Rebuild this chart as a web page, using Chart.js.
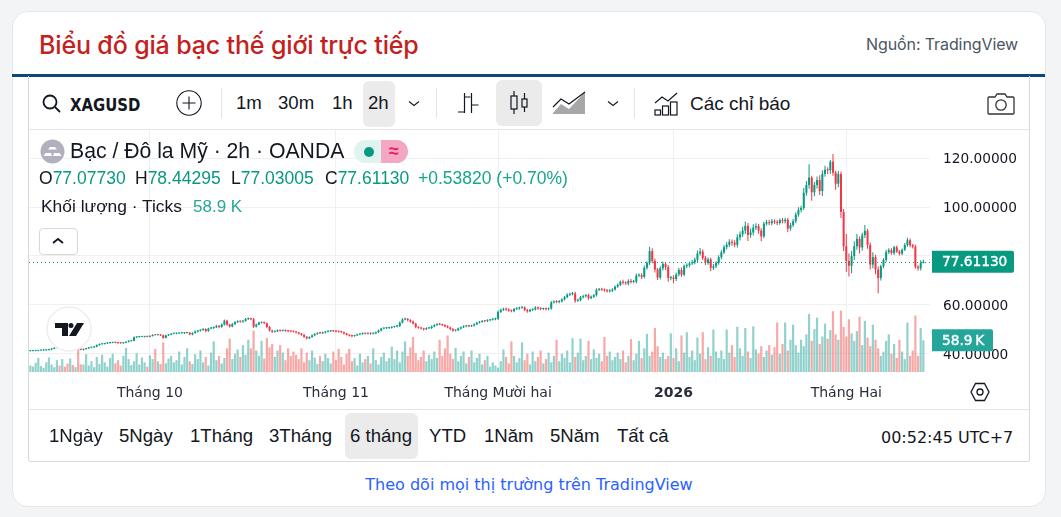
<!DOCTYPE html>
<html lang="vi">
<head>
<meta charset="utf-8">
<title>Biểu đồ giá bạc thế giới trực tiếp</title>
<script src="https://cdn.jsdelivr.net/npm/chart.js@4"></script>
<style>
  html, body { margin: 0; padding: 0; width: 1061px; height: 517px; overflow: hidden; background: #f3f4f6; }
  #card { position: absolute; left: 12px; top: 11px; width: 1032px; height: 494px; background: #fff; border: 1px solid #e5e7eb; border-radius: 16px; }
  #rule { position: absolute; left: 12px; top: 74px; width: 1033px; height: 3px; background: #0b4a78; }
  #frame { position: absolute; left: 28px; top: 76px; width: 1000px; height: 385px; border: 1px solid #d9d9d9; border-top: 0; border-radius: 0 0 3px 3px; }
  #toolLine { position: absolute; left: 29px; top: 129px; width: 1000px; height: 1px; background: #e6e6e6; }
  #axisLine { position: absolute; left: 29px; top: 409px; width: 1000px; height: 1px; background: #e3e3e3; }
  canvas { position: absolute; left: 29px; top: 130px; }
  .t { position: absolute; white-space: nowrap; font-family: "Liberation Sans", Arial, sans-serif; color: #131722; line-height: 1; }
  .c { transform: translate(-50%, -50%); }
  .hl { position: absolute; background: #ebebeb; border-radius: 6px; }
  .sep { position: absolute; width: 1px; background: #e3e3e3; top: 88px; height: 30px; }
  svg { position: absolute; overflow: visible; }
  .up { color: #089981; }
  .ohlc { font-size: 17.5px; top: 170px; }
  .tool { font-size: 18.6px; top: 94px; }
  .range { font-size: 18.6px; top: 427px; }
</style>
</head>
<body>
<div id="card"></div>
<div class="t" style="left:39px;top:30px;font:500 25px Inter,sans-serif;color:#c4211e;letter-spacing:-0.15px">Biểu đồ giá bạc thế giới trực tiếp</div>
<div class="t" style="left:866px;top:34px;font:16px Inter,sans-serif;color:#4b5563;letter-spacing:-0.1px">Nguồn: TradingView</div>
<div id="rule"></div>
<div id="frame"></div>
<div id="toolLine"></div>
<div id="axisLine"></div>

<canvas id="silverChart" width="1000" height="279"></canvas>

<!-- toolbar -->
<svg style="left:42px;top:93px" width="20" height="20" fill="none" stroke="#131722" stroke-width="1.8"><circle cx="8" cy="9" r="6.5"/><path d="M13 14l5 5"/></svg>
<div class="t" style="left:70px;top:95px;font:bold 17.5px 'DejaVu Sans Condensed','DejaVu Sans',sans-serif;transform:scaleX(.945);transform-origin:left">XAGUSD</div>
<svg style="left:176px;top:90px" width="26" height="26" fill="none" stroke="#131722" stroke-width="1.1"><circle cx="13" cy="13" r="12.2"/><path d="M13 6.5v13M6.5 13h13"/></svg>
<div class="sep" style="left:221px"></div>
<div class="hl" style="left:363px;top:81px;width:32px;height:46px"></div>
<div class="t tool" style="left:236px">1m</div>
<div class="t tool" style="left:278px">30m</div>
<div class="t tool" style="left:332px">1h</div>
<div class="t tool" style="left:368px">2h</div>
<svg style="left:408px;top:100px" width="12" height="8" fill="none" stroke="#131722" stroke-width="1.1"><path d="M1 1.5l5 4 5-4"/></svg>
<div class="sep" style="left:436px"></div>
<svg style="left:457px;top:91px" width="22" height="24" fill="none" stroke="#131722" stroke-width="1.2"><path d="M7.5 2v20M1 21h6.5M7.5 6h6M14.5 2v20M14.5 14h7"/></svg>
<div class="hl" style="left:496px;top:80px;width:46px;height:46px"></div>
<svg style="left:509px;top:90px" width="22" height="26" fill="none" stroke="#131722" stroke-width="1.2"><path d="M5 1v5M5 19v5M15.5 3v6M15.5 17v5"/><rect x="2" y="6" width="6" height="13"/><rect x="13" y="9" width="5" height="8"/></svg>
<svg style="left:553px;top:91px" width="34" height="24"><path d="M0 22l8-9 8 5L32 1v22H0z" fill="#8a8a8a" opacity=".75"/><path d="M0 16l8-8 8 5L32 1" fill="none" stroke="#131722" stroke-width="1.2"/></svg>
<svg style="left:607px;top:100px" width="12" height="8" fill="none" stroke="#131722" stroke-width="1.1"><path d="M1 1.5l5 4 5-4"/></svg>
<div class="sep" style="left:634px"></div>
<svg style="left:654px;top:91px" width="25" height="25" fill="none" stroke="#131722" stroke-width="1.2"><path d="M1 12l7-6 6 4 9-8"/><rect x="1" y="19" width="5.5" height="5"/><rect x="8.5" y="15" width="6" height="9"/><rect x="16.5" y="11" width="6.5" height="13"/></svg>
<div class="t" style="left:690px;top:94px;font-size:19px">Các chỉ báo</div>
<svg style="left:987px;top:92px" width="28" height="24" fill="none" stroke="#333" stroke-width="1.3"><path d="M2 5h6l2-3h8l2 3h6a1 1 0 0 1 1 1v15a1 1 0 0 1-1 1H2a1 1 0 0 1-1-1V6a1 1 0 0 1 1-1z"/><circle cx="14" cy="13" r="5.2"/></svg>

<!-- legend over the plot -->
<svg style="left:40px;top:139px" width="25" height="25"><circle cx="12.5" cy="12.5" r="12" fill="#b2b0bf"/><path d="M8 10.5l2-2.5h5l2 2.5zM3.5 17l2-3h5.5l1 3zM13 17l1-3h5.5l2 3z" fill="#fff"/></svg>
<div class="t" style="left:70px;top:140px;font-size:21.2px">Bạc / Đô la Mỹ · 2h · OANDA</div>
<div style="position:absolute;left:354px;top:140px;width:27px;height:23px;background:#e0f3ef;border-radius:12px 0 0 12px"></div>
<div style="position:absolute;left:381px;top:140px;width:27px;height:23px;background:#f5a6c3;border-radius:0 12px 12px 0"></div>
<svg style="left:364px;top:147px" width="10" height="10"><circle cx="5" cy="5" r="5" fill="#089981"/></svg>
<div class="t c" style="left:394px;top:151px;font-size:18px;color:#e91e63;font-weight:bold">≈</div>
<div class="t ohlc" style="left:39px">O<span class="up">77.07730</span></div>
<div class="t ohlc" style="left:135px">H<span class="up">78.44295</span></div>
<div class="t ohlc" style="left:231px">L<span class="up">77.03005</span></div>
<div class="t ohlc" style="left:325px">C<span class="up">77.61130</span></div>
<div class="t ohlc" style="left:418px;color:#1aa58e">+0.53820 (+0.70%)</div>
<div class="t" style="left:41px;top:198px;font-size:17.4px">Khối lượng · Ticks</div>
<div class="t" style="left:193px;top:198px;font-size:17px;color:#26a69a">58.9 K</div>
<div style="position:absolute;left:39px;top:228px;width:37px;height:25px;border:1px solid #d9d9d9;border-radius:4px;background:#fff"></div>
<svg style="left:52px;top:237px" width="12" height="8" fill="none" stroke="#131722" stroke-width="1.8"><path d="M1 6l5-4 5 4"/></svg>

<!-- logo -->
<svg style="left:46px;top:306px" width="46" height="46"><circle cx="23" cy="23" r="22" fill="#fff" stroke="#eee" stroke-width="1.5"/><path d="M9 17h13v13h-6V22H9zM25 17a2.5 2.5 0 1 1 0 5 2.5 2.5 0 0 1 0-5zM31 17h7l-8 13h-7z" fill="#131722"/></svg>

<!-- settings hex on the time axis -->
<svg style="left:970px;top:382px" width="20" height="20" fill="none" stroke="#131722" stroke-width="1.3"><path d="M5.5 1.5h9L19 10l-4.5 8.5h-9L1 10z"/><circle cx="10" cy="10" r="3"/></svg>

<!-- range bar -->
<div class="hl" style="left:345px;top:413px;width:73px;height:46px"></div>
<div class="t range" style="left:49px">1Ngày</div>
<div class="t range" style="left:119px">5Ngày</div>
<div class="t range" style="left:190px">1Tháng</div>
<div class="t range" style="left:269px">3Tháng</div>
<div class="t range" style="left:350px">6 tháng</div>
<div class="t range" style="left:429px">YTD</div>
<div class="t range" style="left:484px">1Năm</div>
<div class="t range" style="left:550px">5Năm</div>
<div class="t range" style="left:617px">Tất cả</div>
<div class="t" style="left:881px;top:428px;font:16px 'DejaVu Sans',sans-serif">00:52:45 UTC+7</div>
<div class="t c" style="left:529px;top:484px;font:16px 'DejaVu Sans',sans-serif;color:#2962ff">Theo dõi mọi thị trường trên TradingView</div>

<script>
const closes = [
  41.2,41.3,41.3,41.4,41.5,41.5,41.6,41.8,42.1,42.5,42.6,42.4,42.5,42.3,42.0,42.0,41.9,42.0,41.9,41.7,
  42.0,42.3,42.6,42.7,43.0,43.7,44.0,44.1,44.3,44.5,44.6,44.7,44.6,44.5,44.4,44.6,45.0,45.3,45.4,46.8,
  46.9,47.0,47.0,47.1,47.0,47.4,47.8,47.7,47.8,47.6,46.6,47.6,47.9,48.3,48.4,48.4,48.5,48.5,48.6,48.7,
  48.0,48.6,49.2,49.5,49.8,50.2,49.4,50.4,50.6,50.9,51.4,51.0,52.0,53.6,52.0,51.2,52.2,53.0,53.3,53.2,
  53.5,54.3,54.4,54.2,51.2,52.0,52.8,52.9,52.6,51.0,49.6,49.1,49.3,49.6,49.5,49.6,49.4,49.3,49.2,49.1,
  48.8,48.3,47.8,47.0,46.4,46.9,47.6,48.2,48.6,48.5,48.8,49.1,49.3,49.4,49.3,49.2,49.1,48.9,48.4,47.8,
  47.5,47.3,47.6,48.0,48.2,48.4,48.3,48.4,48.3,48.4,48.9,49.6,50.4,50.5,50.6,50.7,51.0,51.2,51.4,52.8,
  54.1,54.3,53.8,53.2,52.4,51.0,50.7,50.4,50.1,50.5,50.6,51.2,51.8,52.2,52.0,51.8,51.3,50.8,50.2,49.6,
  49.7,50.4,50.9,51.3,51.5,51.3,51.6,52.1,52.8,53.1,53.5,53.4,53.8,54.0,54.2,54.4,57.2,58.0,58.4,58.2,
  57.7,57.5,58.4,58.6,58.9,59.0,58.0,57.4,58.0,58.2,59.0,58.6,58.4,58.5,58.3,58.6,61.0,61.4,61.2,61.5,
  62.3,63.2,64.2,64.5,64.7,61.8,62.0,63.2,63.6,64.0,62.8,63.4,64.0,66.2,66.4,66.2,66.0,65.6,65.8,66.3,
  67.5,68.2,69.5,69.1,68.8,69.8,69.4,69.6,72.0,72.2,71.5,75.2,77.2,82.0,78.0,74.5,71.2,75.0,76.8,75.5,
  71.0,71.2,70.6,72.5,74.3,72.4,75.9,76.2,77.0,77.4,78.5,81.0,81.8,79.2,77.2,78.6,75.2,75.8,77.2,79.5,
  81.5,83.6,84.6,85.8,85.4,84.6,87.6,88.8,90.4,92.3,88.6,89.6,91.6,92.2,90.4,88.0,93.2,93.8,93.4,94.2,
  93.9,93.5,94.6,94.2,94.8,91.2,92.6,94.2,96.9,98.8,99.6,105.8,109.0,112.0,106.0,109.0,111.0,106.5,113.5,115.2,
  115.0,118.5,114.0,109.5,113.5,98.0,84.0,78.0,76.0,80.0,84.0,87.0,83.5,88.5,90.3,84.5,76.5,79.5,74.5,71.0,
  75.8,78.4,81.6,82.4,81.2,83.6,81.8,81.0,82.6,84.5,86.4,84.4,83.8,75.6,75.0,77.0773,77.6113
];

const upperWicks = [
  0.2,0.2,0.1,0.2,0.2,0.3,0.2,0.3,0.2,0.3,0.2,0.3,0.2,0.2,0.2,0.3,0.2,0.2,0.3,0.2,
  0.2,0.2,0.3,0.2,0.3,0.2,0.3,0.2,0.2,0.3,0.2,0.2,0.3,0.2,0.2,0.3,0.2,0.3,0.2,0.3,
  0.2,0.3,0.2,0.2,0.3,0.2,0.3,0.3,0.2,0.2,0.4,0.3,0.2,0.3,0.2,0.2,0.3,0.2,0.3,0.3,
  0.3,0.3,0.4,0.3,0.3,0.4,0.3,0.3,0.4,0.3,0.5,0.4,0.4,0.5,0.4,0.3,0.4,0.4,0.5,0.4,
  0.4,0.4,0.5,0.4,0.5,0.4,0.4,0.3,0.4,0.3,0.4,0.3,0.3,0.4,0.3,0.3,0.4,0.3,0.3,0.4,
  0.3,0.3,0.3,0.4,0.3,0.3,0.4,0.3,0.3,0.4,0.3,0.3,0.3,0.4,0.3,0.3,0.3,0.4,0.3,0.3,
  0.3,0.4,0.3,0.3,0.3,0.4,0.3,0.3,0.3,0.4,0.3,0.4,0.3,0.3,0.4,0.3,0.3,0.3,0.4,0.5,
  0.5,0.5,0.4,0.4,0.5,0.4,0.3,0.4,0.3,0.4,0.3,0.4,0.4,0.3,0.4,0.3,0.3,0.4,0.3,0.4,
  0.3,0.4,0.3,0.4,0.3,0.4,0.3,0.4,0.3,0.4,0.4,0.3,0.4,0.3,0.4,0.4,0.6,0.6,0.5,0.5,
  0.5,0.5,0.4,0.5,0.4,0.5,0.5,0.4,0.5,0.4,0.5,0.4,0.5,0.4,0.5,0.4,0.6,0.5,0.5,0.5,
  0.5,0.5,0.6,0.5,0.6,0.7,0.5,0.5,0.6,0.5,0.6,0.5,0.5,0.6,0.5,0.6,0.5,0.5,0.6,0.5,
  0.5,0.6,0.5,0.8,0.6,0.7,0.8,0.6,0.9,0.7,0.8,0.9,0.7,1.8,1.2,1.0,0.6,0.8,1.0,0.8,
  0.8,0.7,0.9,0.8,0.8,1.0,0.6,0.8,0.7,1.0,0.9,1.2,1.5,0.9,0.8,0.8,0.7,0.9,0.7,0.8,
  0.8,0.9,1.0,1.0,0.9,1.0,1.3,1.2,1.5,1.8,1.2,1.6,1.4,1.2,1.0,0.9,0.8,0.9,1.0,0.9,
  0.7,0.8,0.7,0.9,0.8,0.8,0.9,0.9,1.0,1.1,0.9,2.0,1.6,5.5,0.8,1.2,1.5,2.0,1.5,1.6,
  1.0,0.7,3.1,0.8,1.2,1.0,1.2,5.0,3.0,2.0,2.0,2.0,1.0,1.0,2.4,0.8,1.0,2.0,1.0,1.2,
  0.6,0.7,0.9,0.8,0.8,0.6,0.7,0.6,0.5,0.8,1.0,0.7,0.5,0.8,0.6,1.2,0.83
];

const lowerWicks = [
  0.2,0.1,0.2,0.2,0.1,0.2,0.2,0.2,0.3,0.2,0.2,0.2,0.3,0.2,0.2,0.2,0.3,0.2,0.2,0.2,
  0.3,0.2,0.2,0.3,0.2,0.2,0.3,0.2,0.2,0.2,0.3,0.2,0.2,0.3,0.2,0.2,0.2,0.3,0.2,0.2,
  0.3,0.2,0.2,0.3,0.2,0.2,0.3,0.2,0.2,0.3,0.4,0.2,0.3,0.2,0.2,0.3,0.2,0.2,0.3,0.2,
  0.4,0.3,0.3,0.4,0.3,0.3,0.5,0.3,0.3,0.4,0.3,0.5,0.3,0.4,0.5,0.4,0.3,0.4,0.3,0.4,
  0.4,0.3,0.4,0.4,0.6,0.4,0.3,0.4,0.4,0.5,0.4,0.5,0.3,0.3,0.4,0.3,0.3,0.4,0.3,0.3,
  0.4,0.3,0.4,0.4,0.5,0.3,0.3,0.4,0.3,0.3,0.3,0.4,0.3,0.3,0.3,0.4,0.3,0.3,0.4,0.3,
  0.4,0.5,0.3,0.3,0.4,0.3,0.3,0.3,0.4,0.3,0.3,0.3,0.4,0.3,0.3,0.4,0.3,0.3,0.3,0.4,
  0.4,0.3,0.5,0.4,0.4,0.5,0.4,0.4,0.5,0.3,0.3,0.4,0.3,0.4,0.3,0.4,0.4,0.3,0.5,0.5,
  0.4,0.3,0.4,0.3,0.4,0.4,0.3,0.4,0.3,0.4,0.3,0.4,0.3,0.4,0.3,0.4,0.5,0.5,0.5,0.6,
  0.5,0.5,0.5,0.4,0.5,0.4,0.6,0.6,0.4,0.5,0.4,0.5,0.5,0.4,0.5,0.4,0.5,0.4,0.5,0.5,
  0.5,0.5,0.4,0.5,0.5,0.9,0.6,0.5,0.5,0.5,0.7,0.5,0.5,0.5,0.5,0.5,0.6,0.5,0.5,0.5,
  0.4,0.5,0.4,0.7,0.5,0.8,0.6,0.5,0.8,0.6,0.9,0.7,0.8,0.9,1.0,1.2,1.0,0.8,0.9,1.2,
  1.5,0.9,1.7,0.8,0.8,0.9,0.7,0.8,0.8,0.7,0.8,0.9,0.8,0.8,0.9,0.8,1.4,0.9,0.8,0.8,
  0.8,0.7,0.9,0.9,1.2,1.0,1.1,1.3,1.0,1.4,2.5,1.2,1.2,1.0,1.3,2.0,0.8,0.8,0.9,0.8,
  0.8,0.9,0.7,0.8,0.9,1.4,0.9,0.8,0.8,0.9,1.0,0.8,1.2,1.5,3.4,1.6,1.4,1.6,2.0,1.2,
  1.5,1.5,1.2,2.5,1.4,2.5,2.0,4.4,4.4,3.0,1.6,1.4,2.5,1.4,1.2,1.5,2.0,1.5,2.0,6.2,
  1.0,0.8,0.7,0.8,0.7,0.8,0.6,0.8,0.7,0.6,0.7,0.8,0.7,0.8,1.0,0.9,0.05
];

// tick volume, in thousands
const volumes = [
  12,10,17,26,11,8,18,27,14,9,22,12,24,10,16,25,13,9,42,14,
  14,33,12,20,9,28,15,32,18,10,26,34,16,22,12,30,45,24,13,20,
  35,14,27,18,10,31,24,43,20,15,55,16,25,30,18,22,38,14,28,44,
  20,15,33,24,40,18,28,12,36,57,22,30,16,26,44,62,24,34,42,28,
  50,32,60,44,77,40,30,58,25,63,46,52,28,40,50,36,22,44,30,38,
  32,24,44,18,36,22,40,27,15,30,20,34,26,16,38,22,43,28,14,34,
  43,20,26,12,34,18,24,30,16,44,22,14,28,36,20,26,47,24,40,18,
  38,57,30,46,65,35,22,28,40,20,32,24,38,26,60,30,44,68,34,24,
  45,20,30,38,16,28,40,18,26,34,14,22,30,10,18,12,8,20,42,28,
  16,57,30,18,26,55,22,34,14,38,20,28,40,16,24,36,18,30,60,20,
  34,26,40,18,63,28,36,62,22,30,58,24,42,26,34,20,65,30,38,22,
  28,36,24,40,18,30,61,22,34,58,26,44,71,30,38,82,48,28,36,24,
  30,72,26,44,20,68,36,74,28,40,22,64,34,74,24,46,30,79,38,26,
  40,24,79,36,50,28,84,44,30,82,38,26,85,42,34,48,28,40,50,32,
  46,92,34,52,92,40,60,88,50,36,60,48,70,108,58,80,101,52,66,90,
  62,78,113,70,60,114,84,66,98,72,58,76,103,50,95,64,48,88,60,44,
  30,38,58,70,34,52,26,60,38,24,92,30,40,105,30,82,58.9
];

const monthLabels = ['Tháng 10', 'Tháng 11', 'Tháng Mười hai', '2026', 'Tháng Hai'];
const monthStartBars = [45, 115, 176, 242, 307];

const UP = '#089981';
const DOWN = '#f23645';
const UP_VOL = 'rgba(38, 166, 154, 0.5)';
const DOWN_VOL = 'rgba(239, 83, 80, 0.5)';
const AXIS_FONT = "'DejaVu Sans', sans-serif";

const opens = closes.map((c, i) => i === 0 ? c : closes[i - 1]);
const isUp = closes.map((c, i) => c >= opens[i]);
const barColors = isUp.map(u => u ? UP : DOWN);
const volColors = isUp.map(u => u ? UP_VOL : DOWN_VOL);
const bodies = closes.map((c, i) => [opens[i], c]);
const wicks = closes.map((c, i) => [Math.min(opens[i], c) - lowerWicks[i], Math.max(opens[i], c) + upperWicks[i]]);

// two empty slots keep the right margin of the time axis
const barLabels = closes.map((c, i) => i).concat(['', '']);

const lastPrice = closes[closes.length - 1];
const lastVolume = volumes[volumes.length - 1];

function tag(ctx, x, w, yc, color, text) {
  ctx.fillStyle = color;
  ctx.beginPath();
  ctx.roundRect(x, yc - 11, w, 22, [0, 2, 2, 0]);
  ctx.fill();
  ctx.fillStyle = '#fff';
  ctx.strokeStyle = '#fff';
  ctx.lineWidth = 0.4;
  ctx.font = "13.7px 'DejaVu Sans', sans-serif";
  ctx.textBaseline = 'middle';
  ctx.textAlign = 'left';
  ctx.fillText(text, x + 10, yc + 1);
  ctx.strokeText(text, x + 10, yc + 1);
}

const lastPricePlugin = {
  id: 'lastPrice',
  afterDatasetsDraw(chart) {
    const { ctx, chartArea, scales } = chart;
    const y = Math.round(scales.y.getPixelForValue(lastPrice)) + 0.5;
    ctx.save();
    ctx.strokeStyle = UP;
    ctx.lineWidth = 1;
    ctx.setLineDash([1, 3]);
    ctx.beginPath();
    ctx.moveTo(chartArea.left, y);
    ctx.lineTo(chartArea.right, y);
    ctx.stroke();
    ctx.restore();
  },
  afterDraw(chart) {
    const { ctx, chartArea, scales } = chart;
    ctx.save();
    tag(ctx, chartArea.right + 2, 82, scales.y.getPixelForValue(lastPrice), UP, lastPrice.toFixed(5));
    tag(ctx, chartArea.right + 2, 61, scales.vol.getPixelForValue(lastVolume), '#26a69a', lastVolume.toFixed(1) + '\u2009K');
    ctx.restore();
  }
};

new Chart(document.getElementById('silverChart'), {
  type: 'bar',
  data: {
    labels: barLabels,
    datasets: [
      { data: bodies, backgroundColor: barColors, barThickness: 2, minBarLength: 1, inflateAmount: 0, grouped: false, order: 1, yAxisID: 'y' },
      { data: wicks, backgroundColor: barColors, barThickness: 1, inflateAmount: 0, grouped: false, order: 2, yAxisID: 'y' },
      { data: volumes, backgroundColor: volColors, barThickness: 2.2, inflateAmount: 0, grouped: false, order: 3, yAxisID: 'vol' }
    ]
  },
  options: {
    responsive: false,
    animation: false,
    events: [],
    layout: { padding: 0 },
    plugins: { legend: { display: false }, tooltip: { enabled: false } },
    scales: {
      x: {
        offset: true,
        grid: { offset: false, color: '#f0f0f0', drawTicks: false },
        border: { display: false },
        afterBuildTicks(scale) {
          scale.ticks = monthStartBars.map(v => ({ value: v }));
        },
        afterFit(scale) {
          scale.height = 37;
          scale.paddingLeft = 0;
          scale.paddingRight = 0;
        },
        ticks: {
          autoSkip: false,
          maxRotation: 0,
          padding: 13,
          color: '#2a2e39',
          font: ctx => ({ family: AXIS_FONT, size: 14, weight: ctx.index === 3 ? 'bold' : 'normal' }),
          callback: (value, i) => monthLabels[i]
        }
      },
      y: {
        position: 'right',
        min: 32.65,
        max: 131.43,
        grid: { color: '#f0f0f0', drawTicks: false },
        border: { display: false },
        afterFit(scale) {
          scale.width = 99;
          scale.paddingTop = 0;
          scale.paddingBottom = 0;
        },
        ticks: {
          stepSize: 20,
          includeBounds: false,
          padding: 13,
          labelOffset: 1,
          // the 80 label sits behind the last-price tag
          color: ctx => ctx.tick.value === 80 ? 'rgba(0, 0, 0, 0)' : '#131722',
          font: { family: AXIS_FONT, size: 13.7 },
          callback: v => v.toFixed(5)
        }
      },
      vol: {
        display: false,
        min: 0,
        max: 450
      }
    }
  },
  plugins: [lastPricePlugin]
});
</script>
</body>
</html>
